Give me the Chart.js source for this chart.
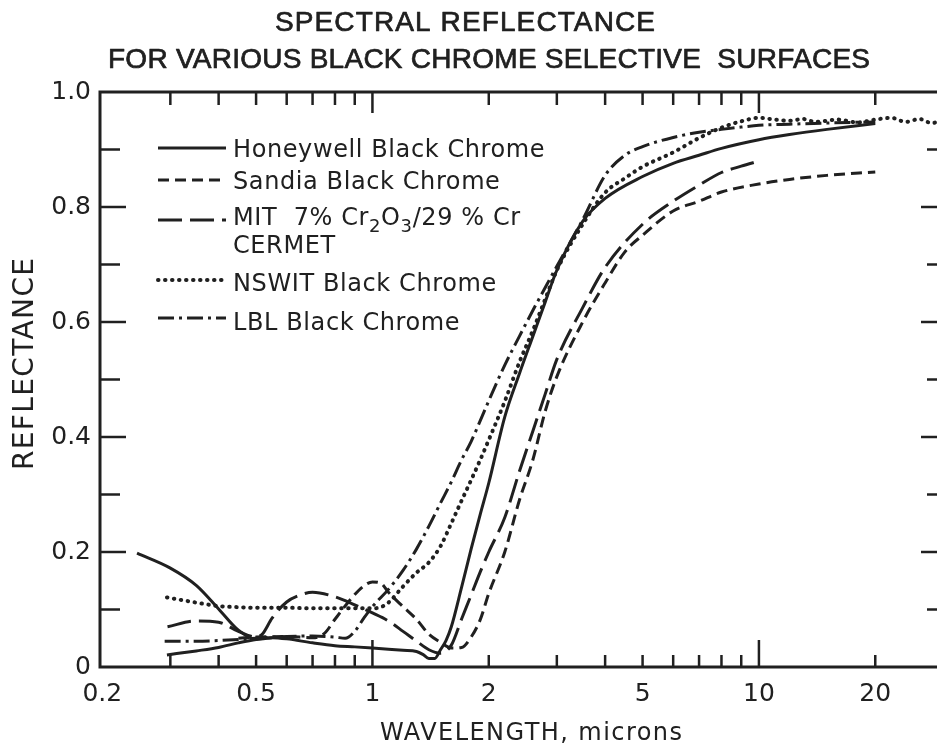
<!DOCTYPE html>
<html>
<head>
<meta charset="utf-8">
<title>Spectral reflectance of black chrome selective surfaces</title>
<script src="https://cdn.jsdelivr.net/npm/chart.js@4.4.1/dist/chart.umd.min.js"></script>
<style>
  html, body { margin: 0; padding: 0; background: #fff; overflow: hidden; }
  canvas { display: block; }
</style>
</head>
<body>
<canvas id="chart" width="960" height="748"></canvas>
<script>
// ---- Reflectance spectra (wavelength in microns, reflectance 0..1) ----
const honeywellWl = [0.294, 0.35, 0.4, 0.45, 0.5, 0.55, 0.6, 0.7, 0.8, 0.9, 1.0, 1.1, 1.2, 1.3, 1.35, 1.4, 1.45, 1.5, 1.55, 1.6, 1.7, 1.8, 1.9, 2.0, 2.2, 2.4, 2.6, 2.8, 3.0, 3.5, 4.0, 5, 6, 7, 8, 10, 12, 15, 20];
const honeywellR  = [0.021, 0.028, 0.034, 0.042, 0.048, 0.051, 0.049, 0.042, 0.037, 0.035, 0.033, 0.031, 0.029, 0.027, 0.022, 0.015, 0.015, 0.03, 0.046, 0.07, 0.138, 0.205, 0.265, 0.32, 0.435, 0.51, 0.575, 0.635, 0.69, 0.775, 0.815, 0.853, 0.876, 0.89, 0.902, 0.917, 0.926, 0.935, 0.945];

// second Honeywell branch in the ultraviolet
const honeywellUvWl = [0.246, 0.3, 0.35, 0.4, 0.45, 0.5, 0.55];
const honeywellUvR  = [0.198, 0.172, 0.142, 0.101, 0.064, 0.048, 0.051];

const sandiaWl = [0.45, 0.5, 0.6, 0.7, 0.75, 0.8, 0.85, 0.9, 0.95, 1.0, 1.05, 1.1, 1.2, 1.3, 1.4, 1.5, 1.6, 1.7, 1.8, 1.9, 2.0, 2.2, 2.4, 2.6, 2.8, 3.0, 3.5, 4.0, 4.5, 5, 6, 7, 8, 10, 12, 15, 20];
const sandiaR  = [0.05, 0.052, 0.053, 0.051, 0.058, 0.083, 0.106, 0.126, 0.141, 0.148, 0.146, 0.13, 0.105, 0.083, 0.057, 0.043, 0.033, 0.034, 0.052, 0.082, 0.128, 0.2, 0.29, 0.36, 0.445, 0.505, 0.6, 0.668, 0.722, 0.751, 0.793, 0.81, 0.826, 0.84, 0.848, 0.855, 0.861];

const mitWl = [0.295, 0.35, 0.4, 0.45, 0.5, 0.52, 0.55, 0.6, 0.65, 0.7, 0.8, 0.9, 1.0, 1.1, 1.2, 1.3, 1.4, 1.5, 1.6, 1.7, 1.8, 1.9, 2.0, 2.2, 2.4, 2.6, 2.8, 3.0, 3.5, 4.0, 5, 6, 7, 8, 9, 10];
const mitR  = [0.07, 0.08, 0.078, 0.062, 0.052, 0.058, 0.085, 0.113, 0.125, 0.13, 0.122, 0.108, 0.094, 0.08, 0.062, 0.045, 0.03, 0.024, 0.038, 0.083, 0.125, 0.165, 0.2, 0.26, 0.34, 0.41, 0.475, 0.535, 0.625, 0.695, 0.77, 0.81, 0.838, 0.86, 0.871, 0.88];

const nswitWl = [0.294, 0.35, 0.4, 0.45, 0.5, 0.6, 0.7, 0.8, 0.9, 1.0, 1.05, 1.1, 1.2, 1.3, 1.4, 1.5, 1.6, 1.7, 1.8, 1.9, 2.0, 2.2, 2.4, 2.6, 2.8, 3.0, 3.5, 4.0, 4.5, 5, 6, 7, 8, 9, 10, 11, 12, 13, 14, 16, 18, 20, 22, 24, 26, 28, 30];
const nswitR  = [0.121, 0.112, 0.106, 0.104, 0.103, 0.103, 0.102, 0.102, 0.102, 0.102, 0.104, 0.112, 0.14, 0.164, 0.182, 0.21, 0.25, 0.289, 0.325, 0.36, 0.395, 0.462, 0.53, 0.585, 0.64, 0.69, 0.77, 0.825, 0.85, 0.87, 0.895, 0.92, 0.938, 0.949, 0.955, 0.952, 0.95, 0.953, 0.948, 0.952, 0.947, 0.952, 0.955, 0.948, 0.953, 0.946, 0.952];

const lblWl = [0.29, 0.35, 0.4, 0.45, 0.5, 0.6, 0.7, 0.8, 0.85, 0.9, 0.95, 1.0, 1.1, 1.2, 1.3, 1.4, 1.5, 1.6, 1.7, 1.8, 1.9, 2.0, 2.2, 2.4, 2.6, 2.8, 3.0, 3.5, 4.0, 4.5, 5, 6, 7, 8, 9, 10, 12, 15, 20];
const lblR  = [0.045, 0.045, 0.046, 0.048, 0.05, 0.053, 0.054, 0.052, 0.05, 0.062, 0.085, 0.105, 0.135, 0.168, 0.205, 0.245, 0.285, 0.322, 0.36, 0.392, 0.428, 0.463, 0.525, 0.575, 0.62, 0.66, 0.697, 0.778, 0.855, 0.89, 0.905, 0.921, 0.93, 0.935, 0.939, 0.942, 0.944, 0.946, 0.948];

// legend labels ("_n" marks a subscript digit, "\n" a second line)
const seriesLabels = [
  'Honeywell Black Chrome',
  'Sandia Black Chrome',
  'MIT  7% Cr_2O_3/29 % Cr\nCERMET',
  'NSWIT Black Chrome',
  'LBL Black Chrome'
];

// axis ticks
const wavelengthTicks  = [0.2, 0.3, 0.4, 0.5, 0.6, 0.7, 0.8, 0.9, 1, 2, 3, 4, 5, 6, 7, 8, 9, 10, 20];
const wavelengthLabels = ['0.2', '', '', '0.5', '', '', '', '', '1', '2', '', '', '5', '', '', '', '', '10', '20'];
const reflectanceTicks  = [0, 0.1, 0.2, 0.3, 0.4, 0.5, 0.6, 0.7, 0.8, 0.9, 1.0];
const reflectanceLabels = ['0', '', '0.2', '', '0.4', '', '0.6', '', '0.8', '', '1.0'];

const titleLines = ['SPECTRAL REFLECTANCE', 'FOR VARIOUS BLACK CHROME SELECTIVE  SURFACES'];
const xTitle = 'WAVELENGTH, microns';
const yTitle = 'REFLECTANCE';

// ---- styling ----
const INK = '#202020';
const SANS = '"DejaVu Sans", "Noto Sans", sans-serif';
const TITLE_FONT = '"Liberation Sans Narrow", "Liberation Sans", Arial, sans-serif';

const pairs = (xs, ys) => xs.map((x, i) => ({ x, y: ys[i] }));
const lineStyle = (dash, cap, width) => ({
  borderColor: INK, borderWidth: width || 3, borderDash: dash, borderCapStyle: cap || 'butt',
  pointRadius: 0, fill: false, cubicInterpolationMode: 'monotone'
});

const styles = [
  lineStyle([]),
  lineStyle([11, 6]),
  lineStyle([24, 8]),
  lineStyle([0.5, 6.5], 'round', 4),
  lineStyle([16, 5, 3, 5])
];

const datasets = [
  Object.assign({ label: seriesLabels[0], data: pairs(honeywellWl, honeywellR) }, styles[0]),
  Object.assign({ label: seriesLabels[0] + ' (UV)', data: pairs(honeywellUvWl, honeywellUvR) }, styles[0]),
  Object.assign({ label: seriesLabels[1], data: pairs(sandiaWl, sandiaR) }, styles[1]),
  Object.assign({ label: seriesLabels[2], data: pairs(mitWl, mitR) }, styles[2]),
  Object.assign({ label: seriesLabels[3], data: pairs(nswitWl, nswitR) }, styles[3]),
  Object.assign({ label: seriesLabels[4], data: pairs(lblWl, lblR) }, styles[4])
];

// text stretched (by letter spacing) to a given width; optional outline for a heavier stroke
function fitText(ctx, text, x, y, width, font, weight) {
  ctx.font = font;
  ctx.letterSpacing = '0px';
  const natural = ctx.measureText(text).width;
  const n = [...text].length;
  ctx.letterSpacing = (n > 1 ? (width - natural) / (n - 1) : 0) + 'px';
  ctx.textAlign = 'left';
  ctx.fillText(text, x, y);
  if (weight) {
    ctx.lineWidth = weight;
    ctx.lineJoin = 'round';
    ctx.strokeText(text, x, y);
  }
  ctx.letterSpacing = '0px';
}

// one legend text line with "_n" subscripts
function richText(ctx, text, x, y) {
  const parts = text.split(/(_\d)/).filter(Boolean);
  let cx = x;
  ctx.textAlign = 'left';
  ctx.letterSpacing = '0.6px';
  parts.forEach(p => {
    if (p[0] === '_') {
      ctx.font = '18px ' + SANS;
      ctx.fillText(p.slice(1), cx, y + 7);
      cx += ctx.measureText(p.slice(1)).width;
    } else {
      ctx.font = '24px ' + SANS;
      ctx.fillText(p, cx, y);
      cx += ctx.measureText(p).width;
    }
  });
  ctx.letterSpacing = '0px';
}

const frame = {
  id: 'frame',
  afterDraw(chart) {
    const { ctx, chartArea: a, scales: { x, y } } = chart;
    const seg = (x1, y1, x2, y2) => { ctx.beginPath(); ctx.moveTo(x1, y1); ctx.lineTo(x2, y2); ctx.stroke(); };
    ctx.save();
    ctx.strokeStyle = INK;
    ctx.fillStyle = INK;
    ctx.lineCap = 'butt';

    // inward tick marks on all four sides
    ctx.lineWidth = 2.5;
    wavelengthTicks.forEach(v => {
      if (v <= x.min * 1.02) return;
      const px = x.getPixelForValue(v);
      const major = v === 1 || v === 10;
      seg(px, a.bottom, px, a.bottom - (major ? 27 : 12));
      seg(px, a.top, px, a.top + (major ? 21 : 13));
    });
    reflectanceTicks.forEach((v, i) => {
      if (v <= 0 || v >= 1) return;
      const py = y.getPixelForValue(v);
      const major = reflectanceLabels[i] !== '';
      seg(a.left, py, a.left + (major ? 26 : 20), py);
      seg(a.right, py, a.right - (major ? 24 : 18), py);
    });

    // frame
    ctx.lineWidth = 3;
    ctx.strokeRect(a.left, a.top, a.right - a.left, a.bottom - a.top);

    // titles
    ctx.textBaseline = 'alphabetic';
    fitText(ctx, titleLines[0], 275, 31, 380, '28px ' + TITLE_FONT, 0.7);
    fitText(ctx, titleLines[1], 108, 68, 762, '28px ' + TITLE_FONT, 0.7);
    fitText(ctx, xTitle, 380, 740, 302, '24px ' + SANS);
    ctx.save();
    ctx.translate(33, 470);
    ctx.rotate(-Math.PI / 2);
    fitText(ctx, yTitle, 0, 0, 212, '28px ' + SANS);
    ctx.restore();

    // legend
    const rows = [
      { set: 0, lineY: 148, textY: 157 },
      { set: 2, lineY: 180, textY: 189 },
      { set: 3, lineY: 220, textY: 225 },
      { set: 4, lineY: 280, textY: 291 },
      { set: 5, lineY: 318, textY: 330 }
    ];
    rows.forEach(r => {
      const ds = chart.data.datasets[r.set];
      ctx.lineWidth = ds.borderWidth;
      ctx.lineCap = ds.borderCapStyle;
      ctx.setLineDash(ds.borderDash);
      seg(158, r.lineY, 226, r.lineY);
      ctx.setLineDash([]);
      ctx.lineCap = 'butt';
      ds.label.split('\n').forEach((line, k) => richText(ctx, line, 233, r.textY + k * 28));
    });
    ctx.restore();
  }
};

new Chart(document.getElementById('chart'), {
  type: 'line',
  data: { datasets },
  options: {
    responsive: false,
    animation: false,
    parsing: true,
    layout: { padding: { left: 0, right: 15, top: 92, bottom: 0 } },
    plugins: { legend: { display: false }, tooltip: { enabled: false }, title: { display: false } },
    scales: {
      x: {
        type: 'logarithmic',
        min: 0.1973,
        max: 30.3,
        border: { display: false },
        grid: { display: false, drawTicks: false },
        afterBuildTicks: s => { s.ticks = wavelengthTicks.map(v => ({ value: v })); },
        afterFit: s => { s.height = 81; },
        ticks: {
          autoSkip: false, maxRotation: 0, padding: 12, color: INK,
          font: { family: SANS, size: 25 },
          callback: (v, i) => wavelengthLabels[i]
        }
      },
      y: {
        type: 'linear',
        min: 0,
        max: 1,
        border: { display: false },
        grid: { display: false, drawTicks: false },
        afterBuildTicks: s => { s.ticks = reflectanceTicks.map(v => ({ value: v })); },
        afterFit: s => { s.width = 100; },
        ticks: {
          autoSkip: false, padding: 9, color: INK,
          font: { family: SANS, size: 25 },
          callback: (v, i) => reflectanceLabels[i]
        }
      }
    }
  },
  plugins: [frame]
});
</script>
</body>
</html>
